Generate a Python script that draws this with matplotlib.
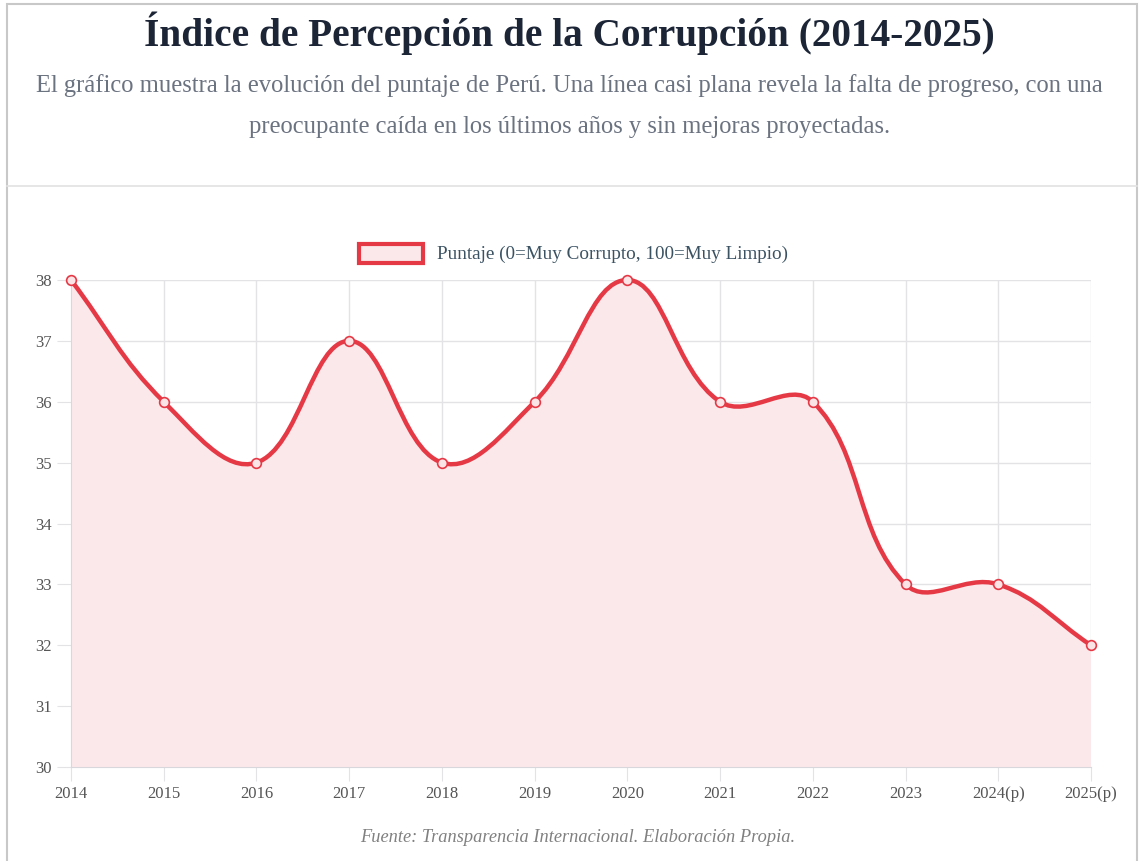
import numpy as np
import matplotlib.pyplot as plt
from matplotlib.path import Path
from matplotlib.patches import PathPatch, Rectangle

years = ['2014', '2015', '2016', '2017', '2018', '2019', '2020', '2021', '2022', '2023', '2024(p)', '2025(p)']
scores = [38, 36, 35, 37, 35, 36, 38, 36, 36, 33, 33, 32]
y_ticks = [30, 31, 32, 33, 34, 35, 36, 37, 38]

red = '#e63946'
fill = '#fbe8ea'
grid = '#e3e3e6'
serif = ['Liberation Serif', 'DejaVu Serif']

W, H = 1139, 861
fig = plt.figure(figsize=(W / 100, H / 100), dpi=100)
fig.patch.set_facecolor('white')

# card frame + separator
fig.add_artist(Rectangle((7 / W, -0.1), 1130 / W, 1.1 - 4 / H, transform=fig.transFigure,
                         fill=False, edgecolor='#c8c8c8', linewidth=1.5))
fig.add_artist(plt.Line2D([7 / W, 1137 / W], [1 - 186 / H] * 2, transform=fig.transFigure,
                          color='#e2e2e2', linewidth=1.2))

fig.text(0.5, 1 - 33 / H, 'Índice de Percepción de la Corrupción (2014-2025)', ha='center', va='center',
         fontsize=28.3, fontweight='bold', color='#1c2536', family=serif)
fig.text(0.5, 1 - 86 / H, 'El gráfico muestra la evolución del puntaje de Perú. Una línea casi plana revela la falta de progreso, con una',
         ha='center', va='center', fontsize=17.7, color='#6b7280', family=serif)
fig.text(0.5, 1 - 127 / H, 'preocupante caída en los últimos años y sin mejoras proyectadas.',
         ha='center', va='center', fontsize=17.7, color='#6b7280', family=serif)

ax = fig.add_axes([71 / W, 1 - 767 / H, 1020 / W, 487 / H])
x = np.arange(len(years))
ax.set_xlim(0, len(years) - 1)
ax.set_ylim(30, 38)

# Chart.js style bezier (tension 0.4), distances in pixel space
sx, sy = 1020 / (len(years) - 1), 487 / 8
px, py = x * sx, np.array(scores, float) * sy
t = 0.4
cp_prev, cp_next = [], []
for i in range(len(px)):
    p0 = (px[max(i - 1, 0)], py[max(i - 1, 0)])
    p2 = (px[min(i + 1, len(px) - 1)], py[min(i + 1, len(px) - 1)])
    d01 = np.hypot(px[i] - p0[0], py[i] - p0[1])
    d12 = np.hypot(p2[0] - px[i], p2[1] - py[i])
    s01 = d01 / (d01 + d12) if d01 + d12 else 0
    s12 = d12 / (d01 + d12) if d01 + d12 else 0
    fa, fb = t * s01, t * s12
    cp_prev.append((px[i] - fa * (p2[0] - p0[0]), py[i] - fa * (p2[1] - p0[1])))
    cp_next.append((px[i] + fb * (p2[0] - p0[0]), py[i] + fb * (p2[1] - p0[1])))

verts = [(x[0], scores[0])]
codes = [Path.MOVETO]
for i in range(len(px) - 1):
    c1 = cp_next[i]
    c2 = cp_prev[i + 1]
    c1 = (c1[0] / sx, min(max(c1[1] / sy, 30), 38))
    c2 = (c2[0] / sx, min(max(c2[1] / sy, 30), 38))
    verts += [c1, c2, (x[i + 1], scores[i + 1])]
    codes += [Path.CURVE4] * 3

area = verts + [(x[-1], 30), (x[0], 30), (x[0], scores[0])]
acodes = codes + [Path.LINETO, Path.LINETO, Path.CLOSEPOLY]
ax.add_patch(PathPatch(Path(area, acodes), facecolor=fill, edgecolor='none', zorder=1))
ax.add_patch(PathPatch(Path(verts, codes), facecolor='none', edgecolor=red, linewidth=3.2,
                       capstyle='round', joinstyle='round', zorder=3, clip_on=False))
ax.plot(x, scores, 'o', ms=7, mfc='#fbe4e6', mec=red, mew=1.2, zorder=4, clip_on=False)

ax.set_xticks(x)
ax.set_xticklabels(years)
ax.set_yticks(y_ticks)
ax.grid(True, color=grid, linewidth=1)
ax.set_axisbelow(True)
for s in ['top', 'right']:
    ax.spines[s].set_visible(False)
for s in ['left', 'bottom']:
    ax.spines[s].set_color('#d8d8dc')
ax.tick_params(length=10, color=grid, labelcolor='#555555', labelsize=12, pad=4)
for lbl in ax.get_xticklabels() + ax.get_yticklabels():
    lbl.set_family(serif)

# legend
fig.add_artist(Rectangle((359 / W, 1 - 263 / H), 64 / W, 19 / H, transform=fig.transFigure,
                         facecolor=fill, edgecolor=red, linewidth=3))
fig.text(437 / W, 1 - 254 / H, 'Puntaje (0=Muy Corrupto, 100=Muy Limpio)', ha='left', va='center',
         fontsize=13.8, color='#3b5263', family=serif)

fig.text(578 / W, 1 - 838 / H, 'Fuente: Transparencia Internacional. Elaboración Propia.', ha='center', va='center',
         fontsize=13.2, style='italic', color='#808080', family=serif)

fig.savefig('out.png', dpi=100)
